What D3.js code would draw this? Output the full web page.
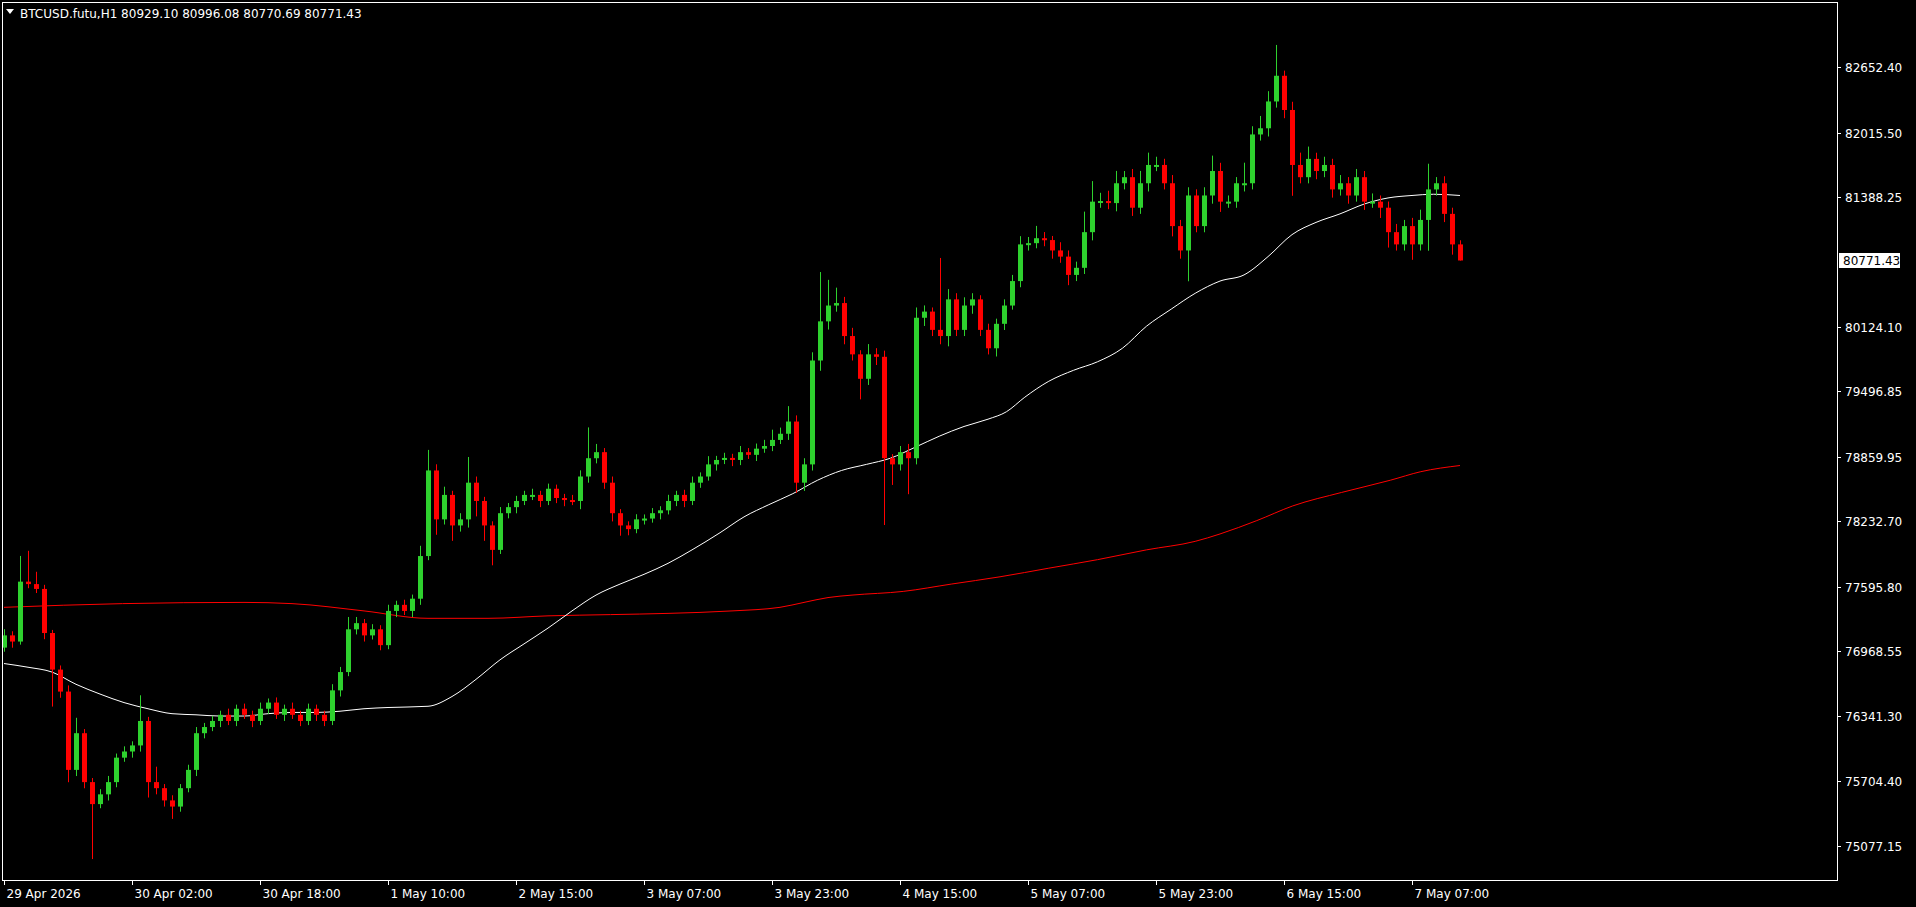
<!DOCTYPE html>
<html>
<head>
<meta charset="utf-8">
<script src="https://cdn.jsdelivr.net/npm/d3@7"></script>
<style>
  html, body { margin: 0; padding: 0; background: #000; }
  svg { display: block; }
  text { font-family: "DejaVu Sans", Tahoma, sans-serif; font-size: 12px; fill: #fff; }
</style>
</head>
<body>
<div id="chart"></div>
<script>
(function () {
    "use strict";

    // closing prices, one per H1 bar (open = previous close)
    var firstOpen = 77004;
    var closes = [
        77123, 77063, 77646, 77622, 77575, 77146, 76790, 76576, 75814, 76171,
        75695, 75481, 75576, 75695, 75933, 75993, 76052, 76290, 75695, 75636,
        75517, 75457, 75636, 75814, 76171, 76231, 76290, 76350, 76290, 76409,
        76350, 76290, 76409, 76469, 76350, 76409, 76350, 76290, 76409, 76350,
        76290, 76588, 76766, 77182, 77242, 77123, 77182, 77028, 77361, 77420,
        77361, 77480, 77895, 78728, 78252, 78490, 78193, 78252, 78609, 78431,
        78193, 77955, 78312, 78371, 78431, 78490, 78490, 78431, 78550, 78460,
        78440, 78431, 78669, 78847, 78906, 78609, 78312, 78193, 78157, 78252,
        78260, 78312, 78340, 78431, 78490, 78431, 78609, 78669, 78787, 78830,
        78850, 78830, 78906, 78880, 78940, 78966, 79025, 79085, 79204, 78609,
        78787, 79798, 80179, 80333, 80357, 80036, 79858, 79620, 79858, 79834,
        78847, 78787, 78906, 78847, 80214, 80274, 80096, 80036, 80393, 80096,
        80333, 80393, 80096, 79917, 80155, 80333, 80571, 80928, 80940, 80988,
        80970, 80869, 80809, 80631, 80700, 81047, 81344, 81350, 81330, 81523,
        81582, 81285, 81523, 81701, 81701, 81523, 81106, 80869, 81404, 81106,
        81404, 81642, 81344, 81344, 81523, 81523, 81998, 82058, 82319, 82569,
        82236, 81701, 81582, 81760, 81642, 81701, 81463, 81523, 81404, 81582,
        81344, 81344, 81285, 81047, 80928, 81106, 80928, 81166, 81463, 81523,
        81225, 80928, 80771.43
    ];
    // upper / lower shadow lengths (price units)
    var wickUp = [
        60, 40, 250, 300, 120, 40, 30, 40, 60, 150,
        40, 40, 50, 60, 40, 50, 40, 250, 40, 150,
        40, 50, 40, 50, 60, 40, 50, 40, 60, 40,
        50, 40, 60, 40, 50, 40, 60, 40, 50, 40,
        40, 60, 50, 120, 60, 40, 50, 40, 60, 40,
        50, 40, 100, 200, 60, 80, 40, 60, 250, 60,
        40, 40, 60, 40, 50, 40, 60, 40, 50, 40,
        40, 50, 60, 300, 80, 40, 60, 40, 40, 50,
        40, 50, 40, 60, 40, 50, 60, 40, 80, 40,
        50, 40, 60, 40, 50, 60, 100, 60, 150, 60,
        60, 80, 480, 250, 150, 60, 80, 40, 100, 60,
        60, 40, 60, 80, 100, 60, 40, 700, 100, 60,
        80, 60, 40, 60, 50, 60, 60, 80, 60, 120,
        60, 40, 80, 60, 60, 200, 200, 80, 100, 120,
        60, 80, 120, 120, 80, 60, 80, 60, 80, 60,
        80, 150, 80, 60, 60, 200, 80, 120, 100, 300,
        50, 80, 120, 120, 60, 80, 60, 80, 60, 80,
        60, 80, 60, 60, 80, 60, 80, 100, 250, 60,
        68, 60, 40
    ];
    var wickDn = [
        40, 60, 30, 40, 40, 60, 360, 60, 120, 60,
        60, 535, 40, 60, 50, 40, 60, 60, 150, 60,
        60, 120, 50, 40, 60, 50, 40, 60, 40, 50,
        40, 60, 40, 50, 40, 60, 40, 50, 40, 60,
        50, 40, 60, 40, 50, 60, 40, 50, 40, 60,
        40, 60, 60, 40, 150, 50, 150, 60, 80, 150,
        150, 150, 40, 50, 60, 40, 50, 60, 40, 50,
        60, 40, 80, 60, 50, 60, 80, 100, 60, 40,
        50, 40, 60, 40, 50, 60, 40, 50, 40, 60,
        40, 60, 50, 40, 60, 40, 50, 40, 60, 100,
        80, 60, 100, 80, 60, 80, 60, 200, 60, 80,
        650, 200, 60, 350, 60, 80, 60, 80, 100, 60,
        60, 80, 60, 60, 80, 60, 40, 60, 60, 50,
        60, 80, 60, 100, 60, 60, 80, 60, 60, 80,
        60, 80, 60, 80, 60, 60, 100, 80, 300, 60,
        60, 80, 100, 60, 60, 80, 60, 60, 80, 60,
        80, 300, 60, 60, 80, 60, 80, 60, 80, 60,
        80, 60, 100, 150, 60, 60, 150, 60, 300, 60,
        80, 100, 1
    ];

    // moving averages: [bar, price]
    var maFast = [
        [0, 76849], [3, 76813], [6, 76766], [9, 76647], [12, 76552], [15, 76469], [18, 76409],
        [21, 76361], [24, 76350], [27, 76338], [30, 76338], [33, 76361], [36, 76373], [39, 76373],
        [42, 76385], [45, 76409], [48, 76421], [53, 76433], [56, 76528], [59, 76695], [62, 76885],
        [65, 77040], [68, 77194], [71, 77361], [74, 77515], [77, 77622], [80, 77717], [83, 77824],
        [86, 77955], [89.5, 78122], [92.5, 78276], [95.6, 78395], [98.6, 78502], [101.7, 78633],
        [104.7, 78728], [107.8, 78787], [110.8, 78847], [113.9, 78954], [116.9, 79061], [120, 79156],
        [123, 79227], [125.3, 79299], [127.6, 79441], [130.6, 79596], [133.7, 79703], [136.7, 79786],
        [139.8, 79917], [142.8, 80131], [145.9, 80298], [148.9, 80452], [152, 80571], [155, 80631],
        [158, 80809], [161, 81023], [164, 81142], [167, 81225], [170, 81320], [173, 81380],
        [176, 81404], [178.7, 81416], [182, 81404]
    ];
    var maSlow = [
        [0, 77396], [14.8, 77432], [30, 77444], [36, 77432], [45, 77361], [53, 77289], [60.5, 77289],
        [68, 77313], [75.8, 77325], [83, 77337], [91, 77361], [97, 77396], [100, 77444], [103, 77491],
        [106, 77515], [112.4, 77551], [118.4, 77622], [124.5, 77693], [130.6, 77777], [136.7, 77860],
        [142.8, 77955], [148.9, 78038], [152, 78110], [156.6, 78240], [161.1, 78383], [167.2, 78514],
        [173.3, 78633], [177.1, 78716], [182, 78776]
    ];

    var priceTicks = [82652.40, 82015.50, 81388.25, 80124.10, 79496.85, 78859.95,
        78232.70, 77595.80, 76968.55, 76341.30, 75704.40, 75077.15];
    var timeTickBars = [0, 16, 32, 48, 64, 80, 96, 112, 128, 144, 160, 176];
    var timeTickLabels = ["29 Apr 2026", "30 Apr 02:00", "30 Apr 18:00", "1 May 10:00",
        "2 May 15:00", "3 May 07:00", "3 May 23:00", "4 May 15:00", "5 May 07:00",
        "5 May 23:00", "6 May 15:00", "7 May 07:00"];
    var lastPrice = 80771.43;
    var title = "BTCUSD.futu,H1  80929.10 80996.08 80770.69 80771.43";

    var W = 1916, H = 907,
        plotL = 2, plotT = 2, plotR = 1837, plotB = 880;

    var x = d3.scaleLinear().domain([0, 182]).range([4, 4 + 182 * 8]);
    var y = d3.scaleLinear().domain([75077.15, 82652.40]).range([845.6, 67.2]);

    var bars = closes.map(function (c, i) {
        var o = i === 0 ? firstOpen : closes[i - 1];
        return { i: i, o: o, c: c, h: Math.max(o, c) + wickUp[i], l: Math.min(o, c) - wickDn[i] };
    });

    var svg = d3.select('#chart').append('svg').attr('width', W).attr('height', H);
    svg.append('rect').attr('width', W).attr('height', H).attr('fill', '#000');

    var g = svg.append('g');
    var line = d3.line().x(function (d) { return x(d[0]); }).y(function (d) { return y(d[1]); })
        .curve(d3.curveMonotoneX);

    g.append('path').attr('d', line(maSlow)).attr('fill', 'none')
        .attr('stroke', '#ff0000').attr('stroke-width', 1);
    g.append('path').attr('d', line(maFast)).attr('fill', 'none')
        .attr('stroke', '#ffffff').attr('stroke-width', 1);

    var candle = g.selectAll('g.c').data(bars).enter().append('g');
    candle.append('line')
        .attr('x1', function (d) { return x(d.i) + 0.5; })
        .attr('x2', function (d) { return x(d.i) + 0.5; })
        .attr('y1', function (d) { return y(d.h); })
        .attr('y2', function (d) { return y(d.l); })
        .attr('stroke', function (d) { return d.c >= d.o ? '#2ed12e' : '#ff0000'; });
    candle.append('rect')
        .attr('x', function (d) { return x(d.i) - 2; })
        .attr('y', function (d) { return y(Math.max(d.o, d.c)); })
        .attr('width', 5)
        .attr('height', function (d) { return Math.max(2, Math.abs(y(d.o) - y(d.c))); })
        .attr('fill', function (d) { return d.c >= d.o ? '#2ed12e' : '#ff0000'; });

    // frame
    svg.append('rect').attr('x', plotL + 0.5).attr('y', plotT + 0.5)
        .attr('width', plotR - plotL).attr('height', plotB - plotT)
        .attr('fill', 'none').attr('stroke', '#fff');

    // price axis
    priceTicks.forEach(function (p) {
        var yy = Math.round(y(p)) + 0.5;
        svg.append('line').attr('x1', plotR).attr('x2', plotR + 4).attr('y1', yy).attr('y2', yy)
            .attr('stroke', '#fff');
        svg.append('text').attr('x', plotR + 8).attr('y', yy + 4).text(p.toFixed(2));
    });
    var ly = Math.round(y(lastPrice)) + 0.5;
    svg.append('rect').attr('x', plotR + 1.5).attr('y', ly - 8).attr('width', 62).attr('height', 16)
        .attr('fill', '#fff').attr('stroke', '#000');
    svg.append('text').attr('x', plotR + 6).attr('y', ly + 4).style('fill', '#000')
        .text(lastPrice.toFixed(2));

    // time axis
    timeTickBars.forEach(function (b, k) {
        var xx = Math.round(x(b)) + 0.5;
        svg.append('line').attr('x1', xx).attr('x2', xx).attr('y1', plotB).attr('y2', plotB + 5)
            .attr('stroke', '#fff');
        svg.append('text').attr('x', xx + 2).attr('y', plotB + 18).text(timeTickLabels[k]);
    });

    // title
    svg.append('path').attr('d', 'M6,9 L14,9 L10,14 Z').attr('fill', '#fff');
    svg.append('text').attr('x', 20).attr('y', 18).text(title);
}());
</script>
</body>
</html>
